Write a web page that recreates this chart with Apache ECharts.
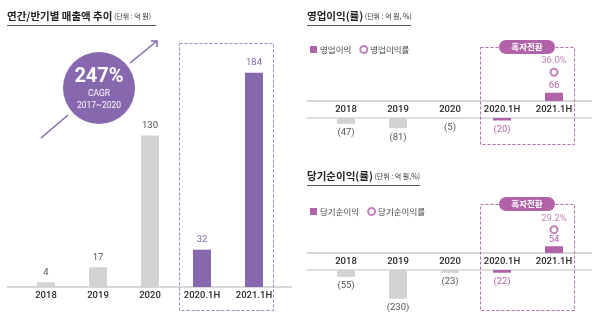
<!DOCTYPE html>
<html>
<head>
<meta charset="utf-8">
<script src="https://cdn.jsdelivr.net/npm/echarts@6/dist/echarts.min.js"></script>
<style>html,body{margin:0;padding:0;background:#fff}#c{width:600px;height:324px}</style>
</head>
<body>
<div id="c"></div>
<script>
// ---- data ----
const categories = ['2018', '2019', '2020', '2020.1H', '2021.1H'];
const revenue = [4, 17, 130, 32, 184];
const opProfit = [-47, -81, -5, -20, 66];
const opMargin = [null, null, null, null, 36.0];
const netProfit = [-55, -230, -23, -22, 54];
const netMargin = [null, null, null, null, 29.2];
const cagrText = '247%';
const cagrPeriod = '2017~2020';

// ---- styles ----
const PURPLE = '#8767ae';
const MAGENTA = '#b262a8';
const GRAY = '#d3d3d5';
const NUMFONT = 'Roboto, sans-serif';
const KFONT = '"Noto Sans CJK KR", sans-serif';
const isHalf = i => categories[i].indexOf('H') >= 0;

const chart = echarts.init(document.getElementById('c'), null, {renderer: 'canvas'});

function posData(arr, col) {
  return arr.map((v, i) => v > 0 ? {value: v, itemStyle: {color: isHalf(i) ? col : GRAY},
    label: {color: isHalf(i) ? col : '#555'}} : '-');
}
function negData(arr, col) {
  return arr.map((v, i) => v < 0 ? {value: v, itemStyle: {color: isHalf(i) ? col : GRAY},
    label: {color: isHalf(i) ? col : '#555'}} : '-');
}
const catAxis = (gi, pos, showLabel) => ({
  type: 'category', gridIndex: gi, data: categories, position: pos,
  axisLine: {show: false}, axisTick: {show: false},
  axisLabel: {show: showLabel, interval: 0, color: '#2a2a2a', fontSize: 9.5, fontFamily: NUMFONT, fontWeight: 500,
    margin: pos === 'top' ? 3 : 4}
});
const valAxis = (gi, min, max) => ({type: 'value', gridIndex: gi, min: min, max: max, show: false, splitLine: {show: false}});

const lbl = (pos, dist, fmt) => ({show: true, position: pos, distance: dist, fontSize: 9.5, fontFamily: NUMFONT, formatter: fmt});
const negFmt = p => '(' + Math.abs(p.value) + ')';

function title(x, y, main, unit) {
  return {type: 'text', left: x, top: y, z: 10,
    style: {text: '{a|' + main + '}{b| ' + unit + '}', rich: {
      a: {font: 'bold 10.5px ' + KFONT, fill: '#222'},
      b: {font: '7px ' + KFONT, fill: '#333'}}}};
}
function hline(x1, x2, y, color, w) {
  return {type: 'line', z: 1, shape: {x1: x1, y1: y, x2: x2, y2: y}, style: {stroke: color, lineWidth: w}};
}
function dashBox(x, y, w, h, color) {
  return {type: 'rect', z: 2, shape: {x: x, y: y, width: w, height: h},
    style: {fill: 'none', stroke: color, lineWidth: 1, lineDash: [3, 2]}};
}
function badge(cx, cy) {
  return [
    {type: 'rect', z: 20, shape: {x: cx - 28, y: cy - 7, width: 56, height: 14, r: 7}, style: {fill: MAGENTA}},
    {type: 'text', z: 21, x: cx, y: cy, style: {text: '흑자전환', font: 'bold 8.5px ' + KFONT, fill: '#fff', align: 'center', verticalAlign: 'middle'}}
  ];
}

const option = {
  animation: false,
  backgroundColor: '#fff',
  grid: [
    {left: 20, width: 260, top: 54, height: 233},
    {left: 320, width: 260, top: 61, height: 40},
    {left: 320, width: 260, top: 118, height: 40},
    {left: 320, width: 260, top: 213, height: 40},
    {left: 320, width: 260, top: 270, height: 40}
  ],
  xAxis: [
    catAxis(0, 'bottom', true),
    catAxis(1, 'bottom', false),
    catAxis(2, 'top', true),
    catAxis(3, 'bottom', false),
    catAxis(4, 'top', true)
  ],
  yAxis: [
    valAxis(0, 0, 200),
    valAxis(1, 0, 320),
    valAxis(1, 0, 50),
    valAxis(2, -320, 0),
    valAxis(3, 0, 320),
    valAxis(3, 0, 50),
    valAxis(4, -320, 0)
  ],
  legend: [
    {left: 305, top: 40, itemWidth: 7, itemHeight: 7, itemGap: 8,
      textStyle: {fontSize: 8.5, color: '#444', fontFamily: KFONT, padding: [0, 0, 0, -2]},
      data: [{name: '영업이익', icon: 'rect'}, {name: '영업이익률', icon: 'emptyCircle'}]},
    {left: 305, top: 202, itemWidth: 7, itemHeight: 7, itemGap: 8,
      textStyle: {fontSize: 8.5, color: '#444', fontFamily: KFONT, padding: [0, 0, 0, -2]},
      data: [{name: '당기순이익', icon: 'rect'}, {name: '당기순이익률', icon: 'emptyCircle'}]}
  ],
  series: [
    {type: 'bar', name: '매출액', xAxisIndex: 0, yAxisIndex: 0, barWidth: 18,
      data: revenue.map((v, i) => ({value: v, itemStyle: {color: isHalf(i) ? PURPLE : GRAY}, label: {color: isHalf(i) ? PURPLE : '#555'}})),
      label: lbl('top', 5)},
    {type: 'bar', name: '영업이익', color: MAGENTA, xAxisIndex: 1, yAxisIndex: 1, barWidth: 18,
      data: posData(opProfit, MAGENTA), label: lbl('top', 2)},
    {type: 'bar', name: '영업이익', color: MAGENTA, xAxisIndex: 2, yAxisIndex: 3, barWidth: 18,
      data: negData(opProfit, MAGENTA), label: lbl('bottom', 4, negFmt)},
    {type: 'scatter', name: '영업이익률', color: MAGENTA, xAxisIndex: 1, yAxisIndex: 2, symbol: 'emptyCircle', symbolSize: 7,
      itemStyle: {borderWidth: 2.5},
      data: opMargin.map(v => v == null ? '-' : v),
      label: Object.assign(lbl('top', 2, p => p.value.toFixed(1) + '%'), {color: MAGENTA})},
    {type: 'bar', name: '당기순이익', color: MAGENTA, xAxisIndex: 3, yAxisIndex: 4, barWidth: 18,
      data: posData(netProfit, MAGENTA), label: lbl('top', 2)},
    {type: 'bar', name: '당기순이익', color: MAGENTA, xAxisIndex: 4, yAxisIndex: 6, barWidth: 18,
      data: negData(netProfit, MAGENTA), label: lbl('bottom', 4, negFmt)},
    {type: 'scatter', name: '당기순이익률', color: MAGENTA, xAxisIndex: 3, yAxisIndex: 5, symbol: 'emptyCircle', symbolSize: 7,
      itemStyle: {borderWidth: 2.5},
      data: netMargin.map(v => v == null ? '-' : v),
      label: Object.assign(lbl('top', 2, p => p.value.toFixed(1) + '%'), {color: MAGENTA})}
  ],
  graphic: [
    title(7, 11, '연간/반기별 매출액 추이', '(단위 : 억 원)'),
    hline(7, 156, 25.5, '#555', 1),
    title(307, 11, '영업이익(률)', '(단위 : 억 원, %)'),
    hline(307, 411, 25.5, '#555', 1),
    title(307, 171, '당기순이익(률)', '(단위 : 억 원,%)'),
    hline(307, 420, 185.5, '#555', 1),
    // axis lines
    hline(7, 292, 287, '#d8d8d8', 2),
    hline(307, 592, 101, '#d8d8d8', 2),
    hline(307, 592, 118, '#bdbdbd', 1),
    hline(307, 592, 253, '#d8d8d8', 2),
    hline(307, 592, 270, '#bdbdbd', 1),
    // dashed boxes
    dashBox(179.5, 43.5, 94, 267, '#9a83c0'),
    dashBox(480.5, 47.5, 94, 97, '#b56aa9'),
    dashBox(480.5, 204.5, 94, 106, '#b56aa9'),
    ...badge(527, 47),
    ...badge(527, 204),
    // CAGR circle + arrow
    {type: 'line', z: 5, shape: {x1: 41, y1: 138, x2: 68, y2: 115}, style: {stroke: PURPLE, lineWidth: 1.5}},
    {type: 'line', z: 5, shape: {x1: 130, y1: 63, x2: 157, y2: 41}, style: {stroke: PURPLE, lineWidth: 1.5}},
    {type: 'polyline', z: 5, shape: {points: [[151, 41], [157, 41], [157, 47]]}, style: {stroke: PURPLE, lineWidth: 1.5, fill: 'none'}},
    {type: 'circle', z: 6, shape: {cx: 99, cy: 88, r: 36}, style: {fill: PURPLE}},
    {type: 'text', z: 7, x: 99, y: 77, style: {text: cagrText, font: 'bold 20px Roboto', fill: '#fff', align: 'center', verticalAlign: 'middle'}},
    {type: 'text', z: 7, x: 99, y: 94, style: {text: 'CAGR', font: '8.5px Roboto', fill: '#fff', align: 'center', verticalAlign: 'middle'}},
    {type: 'text', z: 7, x: 99, y: 106, style: {text: cagrPeriod, font: '8.5px Roboto', fill: '#fff', align: 'center', verticalAlign: 'middle'}}
  ]
};
chart.setOption(option);
</script>
</body>
</html>
